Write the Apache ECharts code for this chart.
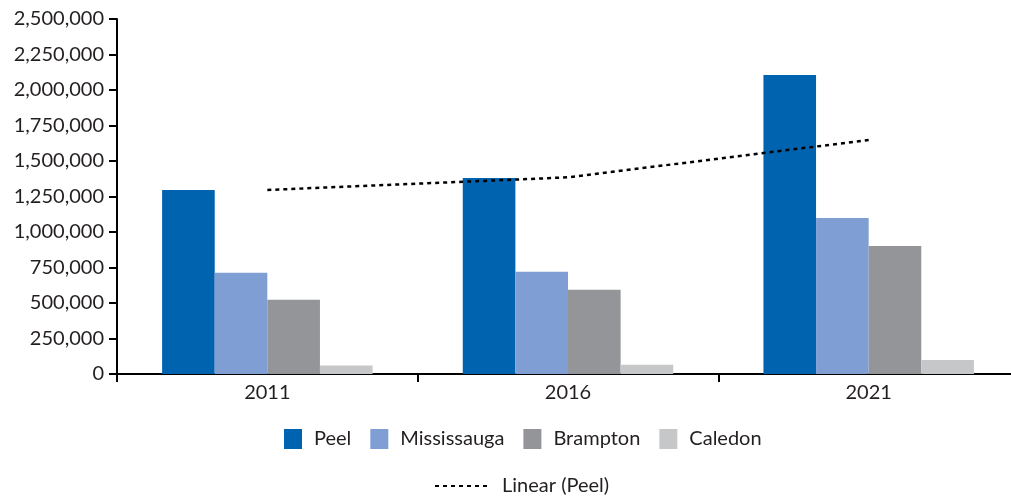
<!DOCTYPE html>
<html>
<head>
<meta charset="utf-8">
<script src="https://cdn.jsdelivr.net/npm/echarts@6/dist/echarts.min.js"></script>
<style>html,body{margin:0;padding:0;background:#fff}#c{width:1011px;height:497px}</style>
</head>
<body>
<div id="c"></div>
<script>
const years = ['2011', '2016', '2021'];
const peel = [1296000, 1381000, 2105000];
const mississauga = [713000, 720000, 1098000];
const brampton = [523000, 593000, 901000];
const caledon = [59000, 66000, 99000];
const linearPeel = [1296000, 1385000, 1648000];
const yTicks = { min: 0, max: 2500000, interval: 250000 };

const FONT = 'Lato';
const TXT = '#231f20';
const chart = echarts.init(document.getElementById('c'));
function bar(name, data, color) {
  return { name, type: 'bar', data, barGap: '0%', barCategoryGap: '30%',
    itemStyle: { color }, emphasis: { disabled: true } };
}
chart.setOption({
  animation: false,
  textStyle: { fontFamily: FONT },
  grid: { left: 117, top: 19, width: 902, bottom: 123, containLabel: false, outerBoundsMode: 'none' },
  legend: [{
    data: ['Peel', 'Mississauga', 'Brampton', 'Caledon'],
    top: 424, left: 279, itemWidth: 18, itemHeight: 20, itemGap: 19,
    textStyle: { fontFamily: FONT, fontSize: 20, color: TXT, padding: [0, 0, 0, 7] },
    icon: 'rect'
  }, {
    data: ['Linear (Peel)'],
    top: 471, left: 429, itemWidth: 56, itemHeight: 20,
    itemStyle: { color: 'transparent', borderWidth: 0, opacity: 0 },
    textStyle: { fontFamily: FONT, fontSize: 20, color: TXT, padding: [0, 0, 0, 6] }
  }],
  xAxis: {
    type: 'category', data: years,
    axisLine: { lineStyle: { color: '#000', width: 2 } },
    axisTick: { show: true, length: 8, lineStyle: { color: '#000', width: 2 } },
    axisLabel: { fontSize: 20, color: TXT, margin: 9, fontFamily: FONT }
  },
  yAxis: {
    type: 'value', min: yTicks.min, max: yTicks.max, interval: yTicks.interval,
    splitLine: { show: false },
    axisLine: { show: true, lineStyle: { color: '#000', width: 2 } },
    axisTick: { show: true, length: 8, lineStyle: { color: '#000', width: 2 } },
    axisLabel: { fontSize: 20, color: TXT, margin: 13, fontFamily: FONT,
      formatter: v => v.toLocaleString('en-US') }
  },
  series: [
    bar('Peel', peel, '#0063af'),
    bar('Mississauga', mississauga, '#7f9fd4'),
    bar('Brampton', brampton, '#949598'),
    bar('Caledon', caledon, '#c6c7c8'),
    { name: 'Linear (Peel)', type: 'line', data: linearPeel, showSymbol: false, symbol: 'none',
      itemStyle: { color: '#000' },
      lineStyle: { color: '#000', width: 2.5, type: [4, 4] }, z: 5, emphasis: { disabled: true } }
  ]
});
</script>
</body>
</html>
